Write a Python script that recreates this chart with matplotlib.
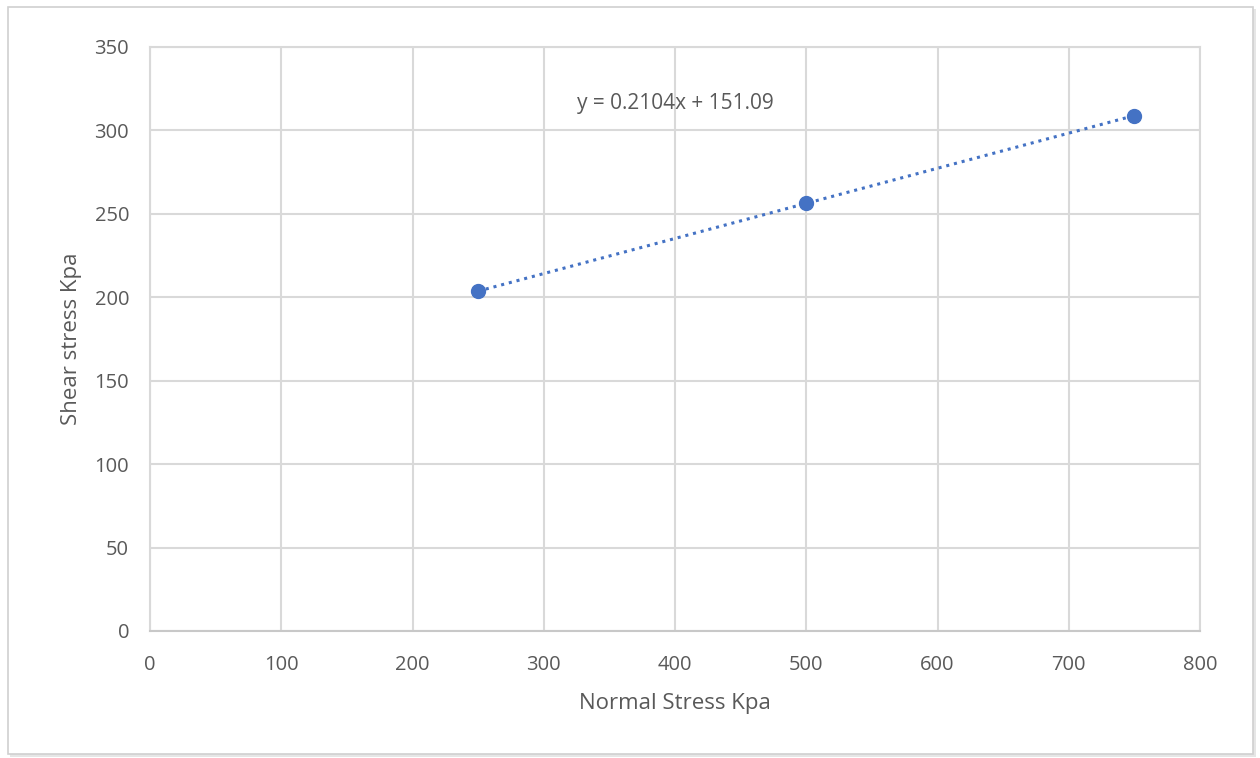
"""Shear stress vs normal stress scatter with a linear trendline."""

import matplotlib

matplotlib.use("Agg")
import matplotlib.pyplot as plt
import numpy as np
from matplotlib.patches import Rectangle

normal_stress = [250, 500, 750]
shear_stress = [203.5, 256.67, 308.7]
x_ticks = [0, 100, 200, 300, 400, 500, 600, 700, 800]
y_ticks = [0, 50, 100, 150, 200, 250, 300, 350]

BLUE = "#4472C4"
TEXT = "#595959"
GRID = "#d9d9d9"

plt.rcParams["font.family"] = ["Open Sans", "DejaVu Sans"]

fig = plt.figure(figsize=(12.6, 7.58), dpi=100)
ax = fig.add_axes([150 / 1260, 1 - 631 / 758, 1050 / 1260, 584 / 758])

# chart frame with a light shadow
fig.patches.append(Rectangle((10 / 1260, 1 - 757 / 758), 1246 / 1260, 748 / 758,
                             transform=fig.transFigure, facecolor="#e6e6e6",
                             edgecolor="none", zorder=-2))
fig.patches.append(Rectangle((8 / 1260, 1 - 754 / 758), 1245 / 1260, 747 / 758,
                             transform=fig.transFigure, facecolor="white",
                             edgecolor="#d0d0d0", linewidth=1.2, zorder=-1))

# trendline
slope, intercept = np.polyfit(normal_stress, shear_stress, 1)
xs = np.array([min(normal_stress), max(normal_stress)])
ax.plot(xs, slope * xs + intercept, linestyle=(0, (1, 1.6)), color=BLUE,
        linewidth=2.2, zorder=3)
ax.plot(normal_stress, shear_stress, "o", color=BLUE, markersize=10, zorder=4)

ax.text(325, 316, f"y = {slope:.4f}x + {intercept:.2f}", fontsize=15,
        color=TEXT, va="center", ha="left")

ax.set_xlim(0, 800)
ax.set_ylim(0, 350)
ax.set_xticks(x_ticks)
ax.set_yticks(y_ticks)
ax.grid(True, color=GRID, linewidth=1.5)
ax.set_axisbelow(True)
for side in ax.spines.values():
    side.set_color(GRID)
    side.set_linewidth(1.5)
ax.spines["bottom"].set_color("#c8c8c8")
ax.tick_params(length=0, labelsize=14.5, labelcolor=TEXT, pad=17)
ax.tick_params(axis="y", pad=15)

ax.set_xlabel("Normal Stress Kpa", fontsize=16, color=TEXT, labelpad=13)
ax.set_ylabel("Shear stress Kpa", fontsize=16, color=TEXT, labelpad=9)

fig.savefig("out.png", dpi=100)
plt.close(fig)
